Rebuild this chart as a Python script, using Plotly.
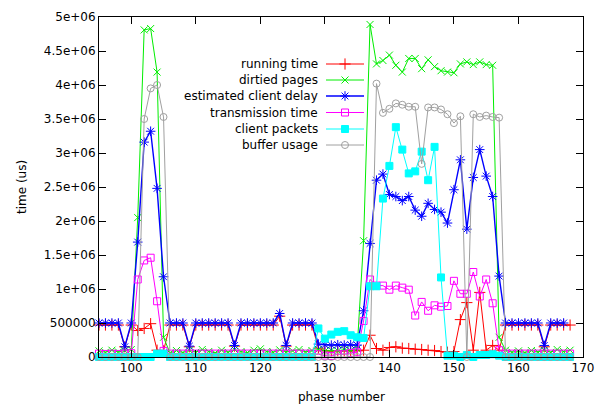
import plotly.graph_objects as go

# ---------------- data ----------------
phase = list(range(95, 169))          # 95 .. 168
phase_delay = list(range(95, 168))    # 95 .. 167

running_time = [
    470000, 470000, 470000, 470000, 150000, 470000, 390000, 420000, 490000, 100000,   # 95-104
    90000, 470000, 470000, 470000, 150000, 470000, 470000, 470000, 470000, 470000,    # 105-114
    470000, 160000, 470000, 470000, 470000, 470000, 470000, 470000, 600000, 160000,   # 115-124
    470000, 470000, 470000, 470000, 130000, 90000, 90000, 90000, 90000, 90000,        # 125-134
    90000, 100000, 320000, 125000, 100000, 140000, 150000, 130000, 125000, 115000,    # 135-144
    110000, 100000, 95000, 80000, 70000, 80000, 550000, 800000, 100000, 950000,       # 145-154
    100000, 170000, 100000, 470000, 470000, 470000, 470000, 470000, 470000, 150000,   # 155-164
    470000, 470000, 470000, 470000,                                                   # 165-168
]

dirtied_pages = [
    90000, 70000, 100000, 75000, 95000, 110000, 2050000, 4810000, 4830000, 4190000,   # 95-104
    290000, 60000, 95000, 65000, 100000, 70000, 110000, 80000, 60000, 100000,         # 105-114
    70000, 110000, 80000, 65000, 100000, 120000, 80000, 70000, 105000, 75000,         # 115-124
    90000, 110000, 75000, 95000, 110000, 85000, 100000, 90000, 110000, 95000,         # 125-134
    120000, 1710000, 4890000, 4310000, 4360000, 4440000, 4290000, 4190000, 4390000, 4390000,  # 135-144
    4240000, 4370000, 4270000, 4210000, 4190000, 4180000, 4310000, 4340000, 4300000, 4340000,  # 145-154
    4300000, 4290000, 290000, 100000, 70000, 90000, 65000, 95000, 75000, 100000,      # 155-164
    70000, 110000, 80000, 100000,                                                     # 165-168
]

client_delay = [
    500000, 500000, 500000, 500000, 150000, 500000, 1690000, 3160000, 3320000, 2480000,  # 95-104
    1180000, 500000, 500000, 500000, 160000, 500000, 500000, 500000, 500000, 500000,     # 105-114
    500000, 170000, 500000, 500000, 500000, 500000, 500000, 500000, 640000, 170000,      # 115-124
    500000, 500000, 500000, 500000, 190000, 180000, 175000, 180000, 175000, 180000,      # 125-134
    175000, 680000, 1670000, 2600000, 2690000, 2390000, 2360000, 2300000, 2360000, 2160000,  # 135-144
    2070000, 2260000, 2170000, 2130000, 1970000, 2460000, 2900000, 1880000, 2640000, 3050000,  # 145-154
    2660000, 2360000, 1190000, 500000, 500000, 500000, 500000, 500000, 500000, 170000,   # 155-164
    500000, 500000, 500000,                                                              # 165-167
]

transmission_time = [
    50000, 45000, 50000, 45000, 50000, 55000, 1140000, 1420000, 1460000, 820000,      # 95-104
    90000, 50000, 50000, 50000, 50000, 50000, 50000, 50000, 50000, 50000,             # 105-114
    50000, 50000, 50000, 50000, 50000, 50000, 50000, 50000, 50000, 50000,             # 115-124
    50000, 50000, 50000, 50000, 40000, 20000, 15000, 40000, 40000, 60000,             # 125-134
    70000, 530000, 1140000, 1050000, 1050000, 990000, 1050000, 1020000, 990000, 610000,  # 135-144
    810000, 680000, 760000, 740000, 750000, 1120000, 930000, 930000, 1250000, 890000,  # 145-154
    1140000, 790000, 100000, 50000, 50000, 50000, 50000, 50000, 50000, 50000,         # 155-164
    50000, 50000, 50000, 50000,                                                       # 165-168
]

client_packets = [
    0, 0, 0, 0, 0, 0, 0, 0, 0, 50000,                                                 # 95-104
    50000, 0, 0, 0, 0, 0, 0, 0, 0, 0,                                                 # 105-114
    0, 0, 0, 0, 0, 0, 0, 0, 0, 0,                                                     # 115-124
    0, 0, 0, 0, 420000, 270000, 330000, 370000, 380000, 320000,                       # 125-134
    290000, 280000, 1040000, 1040000, 2330000, 2810000, 3380000, 3050000, 2700000, 2730000,  # 135-144
    3020000, 2600000, 3090000, 1170000, 20000, 20000, 0, 30000, 0, 30000,            # 145-154
    30000, 40000, 20000, 0, 0, 0, 0, 0, 0, 0,                                         # 155-164
    0, 0, 0, 0,                                                                       # 165-168
]

buffer_usage = [
    0, 0, 0, 0, 0, 0, 0, 3500000, 3950000, 4000000,                                   # 95-104
    3530000, 0, 0, 0, 0, 0, 0, 0, 0, 0,                                               # 105-114
    0, 0, 0, 0, 0, 0, 0, 0, 0, 0,                                                     # 115-124
    0, 0, 0, 0, 0, 0, 0, 0, 0, 0,                                                     # 125-134
    0, 0, 0, 4020000, 3590000, 3650000, 3730000, 3710000, 3680000, 3680000,           # 135-144
    2840000, 3670000, 3670000, 3640000, 3570000, 3440000, 3540000, 0, 3570000, 3530000,  # 145-154
    3550000, 3530000, 3520000, 0, 0, 0, 0, 0, 0, 0,                                   # 155-164
    0, 0, 0, 0,                                                                       # 165-168
]

series_names = ["running time", "dirtied pages", "estimated client delay",
                "transmission time", "client packets", "buffer usage"]
x_ticks = [100, 110, 120, 130, 140, 150, 160, 170]
y_ticks = [0, 500000, 1000000, 1500000, 2000000, 2500000, 3000000, 3500000, 4000000, 4500000, 5000000]
y_tick_labels = ["0", "500000", "1e+06", "1.5e+06", "2e+06", "2.5e+06", "3e+06",
                 "3.5e+06", "4e+06", "4.5e+06", "5e+06"]

# ---------------- styles ----------------
styles = [
    dict(color="#FF0000", symbol="cross-thin-open", size=8, lw=1),
    dict(color="#00EE00", symbol="x-thin-open", size=7, lw=1),
    dict(color="#0000FF", symbol="asterisk-open", size=8, lw=1.4),
    dict(color="#FF00FF", symbol="square-open", size=7, lw=1),
    dict(color="#00FFFF", symbol="square", size=7, lw=1),
    dict(color="#A0A0A0", symbol="circle-open", size=7, lw=1),
]
FONT = "DejaVu Sans"

xs = [phase, phase, phase_delay, phase, phase, phase]
ys = [running_time, dirtied_pages, client_delay, transmission_time, client_packets, buffer_usage]

fig = go.Figure()
for name, x, y, st in zip(series_names, xs, ys, styles):
    fig.add_trace(go.Scatter(
        x=x, y=y, name=name, mode="lines+markers",
        line=dict(color=st["color"], width=st["lw"]),
        marker=dict(symbol=st["symbol"], size=st["size"], color=st["color"],
                    line=dict(color=st["color"], width=1)),
        cliponaxis=False, showlegend=False,
    ))

FIG_W, FIG_H = 597, 406
# Plot frame in window pixels (reference)
L, R, T, B = 99, 583, 17, 357
W, H = R - L, B - T
key_rows_px = [64, 80, 96, 112.5, 129, 145]
text_right = (320 - L) / W
line_x0, line_x1, mark_x = (326 - L) / W, (364 - L) / W, (345 - L) / W

annotations = []
shapes = []
for name, st, ypx in zip(series_names, styles, key_rows_px):
    fy = (B - ypx) / H
    annotations.append(dict(x=text_right, y=fy, xref="paper", yref="paper",
                            text=name, showarrow=False, xanchor="right", yanchor="middle",
                            font=dict(family=FONT, size=12, color="#000000")))
    shapes.append(dict(type="line", xref="paper", yref="paper",
                       x0=line_x0, x1=line_x1, y0=fy, y1=fy,
                       line=dict(color=st["color"], width=st["lw"])))
    fig.add_trace(go.Scatter(
        x=[mark_x], y=[fy], xaxis="x2", yaxis="y2", mode="markers",
        marker=dict(symbol=st["symbol"], size=st["size"], color=st["color"],
                    line=dict(color=st["color"], width=1)),
        showlegend=False, hoverinfo="skip", cliponaxis=False,
    ))

annotations.append(dict(x=(22 - L) / W, y=(B - 187) / H, xref="paper", yref="paper",
                        text="time (us)", showarrow=False, textangle=-90,
                        xanchor="center", yanchor="middle",
                        font=dict(family=FONT, size=12, color="#000000")))
annotations.append(dict(x=0.5, y=(B - 397) / H, xref="paper", yref="paper",
                        text="phase number", showarrow=False,
                        xanchor="center", yanchor="middle",
                        font=dict(family=FONT, size=12, color="#000000")))

axis_common = dict(showline=True, linecolor="#000000", linewidth=1, mirror="allticks",
                   ticks="inside", ticklen=7, tickcolor="#000000", tickwidth=1,
                   showgrid=False, zeroline=False, automargin=False,
                   tickfont=dict(family=FONT, size=12, color="#000000"))

fig.update_layout(
    width=FIG_W, height=FIG_H,
    margin=dict(l=L, r=FIG_W - R, t=T, b=FIG_H - B, pad=0),
    paper_bgcolor="white", plot_bgcolor="white",
    showlegend=False,
    xaxis=dict(range=[95, 170], tickvals=x_ticks, **axis_common),
    yaxis=dict(range=[0, 5000000], tickvals=y_ticks, ticktext=y_tick_labels, **axis_common),
    xaxis2=dict(overlaying="x", range=[0, 1], visible=False),
    yaxis2=dict(overlaying="y", range=[0, 1], visible=False),
    annotations=annotations,
    shapes=shapes,
    font=dict(family=FONT, size=12, color="#000000"),
)

# remove the browser's default 8px body margin so the 597x406 figure fills the window
fig.write_html("out.html",
               config={"displayModeBar": False},
               post_script="document.body.style.margin='0';document.body.style.overflow='hidden';")
